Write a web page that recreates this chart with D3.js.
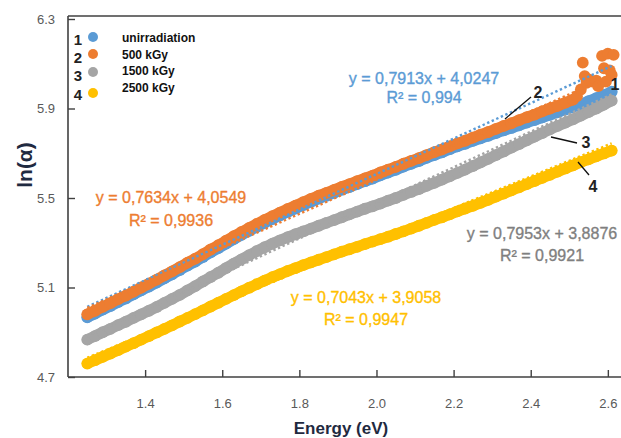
<!DOCTYPE html>
<html>
<head>
<meta charset="utf-8">
<script src="https://cdn.jsdelivr.net/npm/d3@7"></script>
<style>
  html, body { margin: 0; padding: 0; background: #fff; }
  svg { display: block; }
  text { font-family: "Liberation Sans", Arial, sans-serif; }
</style>
</head>
<body>
<svg id="chart" width="621" height="438"></svg>
<script>
// Photon energy grid (eV)
const energy = [1.25,1.27,1.29,1.31,1.33,1.35,1.37,1.39,1.41,1.43,1.45,1.47,1.49,1.51,1.53,1.55,1.57,1.59,1.61,1.63,1.65,1.67,1.69,1.71,1.73,1.75,1.77,1.79,1.81,1.83,1.85,1.87,1.89,1.91,1.93,1.95,1.97,1.99,2.01,2.03,2.05,2.07,2.09,2.11,2.13,2.15,2.17,2.19,2.21,2.23,2.25,2.27,2.29,2.31,2.33,2.35,2.37,2.39,2.41,2.43,2.45,2.47,2.49,2.51,2.53,2.55,2.57,2.59,2.61];

// ln(alpha) for each dose
const unirradiated = [4.967,4.983,5.001,5.017,5.035,5.051,5.069,5.087,5.104,5.122,5.141,5.159,5.178,5.198,5.216,5.236,5.257,5.276,5.296,5.316,5.335,5.353,5.371,5.389,5.406,5.422,5.438,5.453,5.468,5.483,5.497,5.510,5.523,5.537,5.549,5.562,5.575,5.587,5.601,5.614,5.626,5.640,5.653,5.665,5.679,5.692,5.704,5.718,5.731,5.742,5.755,5.767,5.778,5.790,5.802,5.813,5.825,5.837,5.848,5.860,5.872,5.883,5.895,5.907,5.920,5.933,5.946,5.960,5.975];
const dose500 = [4.980,4.996,5.014,5.030,5.048,5.064,5.082,5.100,5.117,5.135,5.154,5.172,5.191,5.211,5.229,5.249,5.270,5.289,5.309,5.329,5.348,5.366,5.384,5.402,5.419,5.435,5.451,5.466,5.481,5.496,5.510,5.523,5.536,5.550,5.562,5.575,5.588,5.600,5.614,5.627,5.639,5.653,5.666,5.678,5.692,5.705,5.717,5.731,5.744,5.756,5.770,5.783,5.795,5.809,5.822,5.834,5.848,5.861,5.873,5.887,5.900,5.912,5.926,5.940,null,null,null,null,null];
const dose1500 = [4.867,4.883,4.900,4.915,4.932,4.947,4.964,4.980,4.996,5.013,5.031,5.049,5.067,5.087,5.106,5.127,5.147,5.166,5.187,5.207,5.226,5.245,5.263,5.280,5.296,5.311,5.325,5.338,5.351,5.363,5.376,5.389,5.401,5.414,5.427,5.439,5.452,5.463,5.475,5.488,5.500,5.514,5.527,5.540,5.554,5.568,5.582,5.597,5.612,5.627,5.643,5.659,5.675,5.692,5.708,5.725,5.741,5.758,5.774,5.790,5.807,5.822,5.837,5.852,5.868,5.884,5.900,5.917,5.935];
const dose2500 = [4.760,4.775,4.790,4.805,4.820,4.836,4.851,4.867,4.883,4.899,4.915,4.931,4.948,4.964,4.981,4.998,5.015,5.032,5.049,5.066,5.083,5.099,5.115,5.131,5.146,5.160,5.174,5.187,5.200,5.212,5.224,5.236,5.248,5.260,5.271,5.282,5.294,5.305,5.316,5.327,5.339,5.351,5.363,5.376,5.389,5.402,5.414,5.427,5.440,5.453,5.465,5.478,5.492,5.506,5.520,5.534,5.548,5.562,5.576,5.590,5.604,5.618,5.632,5.646,5.660,5.673,5.686,5.699,5.712];

// Scattered high-energy points of the 500 kGy sample
const tailEnergy = [2.52,2.53,2.535,2.54,2.545,2.55,2.56,2.57,2.575,2.585,2.59,2.595,2.60,2.605,2.61,2.615];
const tail500   = [5.955,5.985,6.105,6.045,6.015,6.030,6.020,6.025,6.000,6.135,6.080,6.020,6.145,6.070,6.050,6.140];

// Series names, colours and linear fits
const seriesNames = ["unirradiation", "500 kGy", "1500 kGy", "2500 kGy"];
const seriesColors = ["#5B9BD5", "#ED7D31", "#A5A5A5", "#FFC000"];
const fitSlope = [0.7913, 0.7634, 0.7953, 0.7043];
const fitIntercept = [4.0247, 4.0549, 3.8876, 3.9058];
const fitR2 = [0.994, 0.9936, 0.9921, 0.9947];
const fitRange = [1.25, 2.61];

// Axis ticks
const xTicks = [1.4, 1.6, 1.8, 2.0, 2.2, 2.4, 2.6];
const yTicks = [4.7, 5.1, 5.5, 5.9, 6.3];

const svg = d3.select("#chart");
const plotLeft = 68, plotBottom = 377, plotTop = 19;

const x = d3.scaleLinear().domain([1.2, 2.74]).range([plotLeft, plotLeft + 385.6 * 1.54]);
const y = d3.scaleLinear().domain([4.7, 6.3]).range([plotBottom, plotTop]);

const seriesValues = [unirradiated, dose500, dose1500, dose2500];
const markerR = 5.9;

// Dense markers: a band underneath plus individual dots on top
const plot = svg.append("g");
const band = d3.line().defined(d => d.v != null).x(d => x(d.e)).y(d => y(d.v));
seriesValues.forEach((vals, i) => {
  const pts = energy.map((e, k) => ({ e, v: vals[k] }));
  const g = plot.append("g");
  g.append("path").attr("d", band(pts))
    .attr("fill", "none").attr("stroke", seriesColors[i])
    .attr("stroke-width", markerR * 2 - 0.8)
    .attr("stroke-linecap", "round").attr("stroke-linejoin", "round");
  g.selectAll("circle").data(pts.filter(d => d.v != null)).join("circle")
    .attr("cx", d => x(d.e)).attr("cy", d => y(d.v)).attr("r", markerR)
    .attr("fill", seriesColors[i]);
  if (i === 1) {
    g.append("g").selectAll("circle").data(tailEnergy.map((e, k) => ({ e, v: tail500[k] })))
      .join("circle")
      .attr("cx", d => x(d.e)).attr("cy", d => y(d.v)).attr("r", markerR)
      .attr("fill", seriesColors[1]);
  }
});

// Dotted linear trendlines
const line = d3.line().x(d => x(d[0])).y(d => y(d[1]));
fitSlope.forEach((m, i) => {
  const pts = fitRange.map(e => [e, m * e + fitIntercept[i]]);
  plot.append("path").attr("d", line(pts))
    .attr("fill", "none").attr("stroke", seriesColors[i])
    .attr("stroke-width", 2.4).attr("stroke-dasharray", "2.4 2.6");
});

// Axes
const axisColor = "#404040";
const xAxis = d3.axisBottom(x).tickValues(xTicks).tickSizeInner(-7).tickSizeOuter(0)
  .tickPadding(22).tickFormat(d3.format(".1f"));
const gx = svg.append("g").attr("transform", `translate(0,${plotBottom})`).call(xAxis);
gx.select(".domain").remove();
gx.append("line").attr("x1", plotLeft).attr("x2", 621).attr("stroke", axisColor).attr("stroke-width", 1.6);
gx.selectAll(".tick line").attr("stroke", axisColor).attr("stroke-width", 1.4);
gx.selectAll(".tick text").attr("fill", "#595959").style("font-size", "13px");

const yAxis = d3.axisLeft(y).tickValues(yTicks).tickSizeInner(-7).tickSizeOuter(0)
  .tickPadding(13).tickFormat(d3.format(".1f"));
const gy = svg.append("g").attr("transform", `translate(${plotLeft},0)`).call(yAxis);
gy.select(".domain").remove();
gy.append("line").attr("y1", plotTop - 3).attr("y2", plotBottom).attr("stroke", axisColor).attr("stroke-width", 1.6);
gy.selectAll(".tick line").attr("stroke", axisColor).attr("stroke-width", 1.4);
gy.selectAll(".tick text").attr("fill", "#595959").style("font-size", "13px");

// Top frame line
svg.append("line").attr("x1", plotLeft).attr("x2", 621).attr("y1", plotTop - 3).attr("y2", plotTop - 3)
  .attr("stroke", axisColor).attr("stroke-width", 1.6);

// Axis titles
svg.append("text").attr("x", 341).attr("y", 434).attr("text-anchor", "middle")
  .attr("fill", "#1f2a40").style("font-size", "17px").style("font-weight", "bold")
  .text("Energy (eV)");
svg.append("text").attr("transform", "translate(32,165) rotate(-90)").attr("text-anchor", "middle")
  .attr("fill", "#1f2a40").style("font-size", "21px").style("font-weight", "bold")
  .text("ln(α)");

// Legend
const legend = svg.append("g");
const legendRows = [
  { num: 40, dot: 37, txt: 38 },
  { num: 58, dot: 54, txt: 55 },
  { num: 76, dot: 72, txt: 71 },
  { num: 95, dot: 93, txt: 88 }
];
seriesNames.forEach((name, i) => {
  const r = legendRows[i];
  legend.append("text").attr("x", 78).attr("y", r.num).attr("dy", "0.36em")
    .attr("text-anchor", "middle").style("font-size", "15px").style("font-weight", "bold")
    .attr("fill", "#222").text(i + 1);
  legend.append("circle").attr("cx", 93).attr("cy", r.dot).attr("r", 5).attr("fill", seriesColors[i]);
  legend.append("text").attr("x", 122).attr("y", r.txt).attr("dy", "0.36em")
    .style("font-size", "12px").style("font-weight", "bold").attr("fill", "#111").text(name);
});

// Fit equations
const comma = v => String(v).replace(".", ",");
const eqPos = [
  { cx: 424, y1: 78, y2: 97 },
  { cx: 171, y1: 197, y2: 220 },
  { cx: 542, y1: 233, y2: 255 },
  { cx: 366, y1: 297, y2: 319 }
];
const eqColors = ["#5B9BD5", "#ED7D31", "#7F7F7F", "#FFC000"];
fitSlope.forEach((m, i) => {
  const p = eqPos[i];
  [[p.y1, `y = ${comma(m)}x + ${comma(fitIntercept[i])}`], [p.y2, `R² = ${comma(fitR2[i])}`]]
    .forEach(([ty, txt]) => {
      svg.append("text").attr("x", p.cx).attr("y", ty).attr("dy", "0.36em").attr("text-anchor", "middle")
        .attr("fill", eqColors[i]).attr("stroke", eqColors[i]).attr("stroke-width", 0.35)
        .style("font-size", "16px").text(txt);
    });
});

// Curve callouts
const callouts = [
  { n: "2", tx: 538, ty: 92, x1: 531, y1: 97, x2: 505, y2: 119 },
  { n: "3", tx: 586, ty: 142, x1: 551, y1: 137, x2: 577, y2: 143 },
  { n: "4", tx: 593, ty: 186, x1: 578, y1: 162, x2: 589, y2: 175 },
  { n: "1", tx: 615, ty: 84, x1: null }
];
callouts.forEach(c => {
  if (c.x1 != null) {
    svg.append("line").attr("x1", c.x1).attr("y1", c.y1).attr("x2", c.x2).attr("y2", c.y2)
      .attr("stroke", "#111").attr("stroke-width", 1.3);
  }
  svg.append("text").attr("x", c.tx).attr("y", c.ty).attr("dy", "0.36em").attr("text-anchor", "middle")
    .style("font-size", "16px").style("font-weight", "bold").attr("fill", "#222").text(c.n);
});
</script>
</body>
</html>
